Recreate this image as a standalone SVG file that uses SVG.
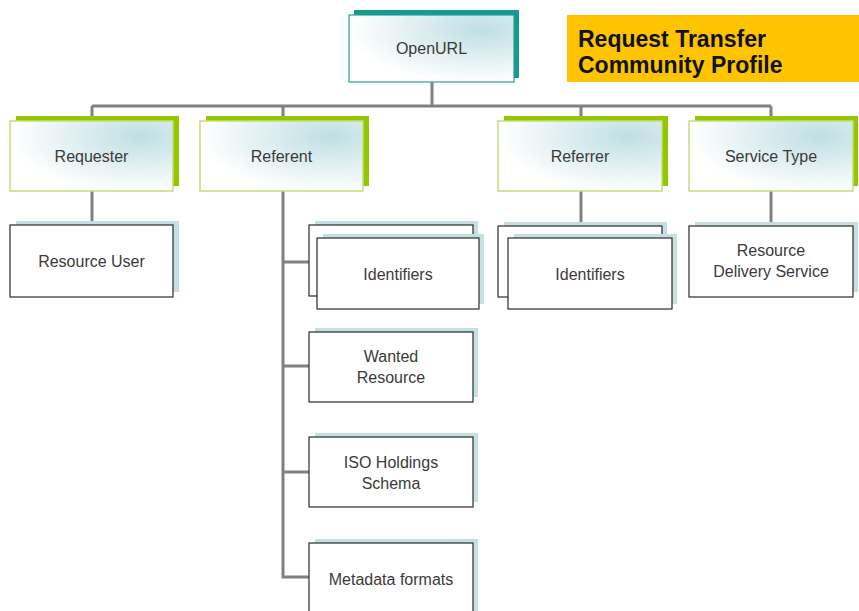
<svg xmlns="http://www.w3.org/2000/svg" width="859" height="611" viewBox="0 0 859 611">
  <defs>
    <radialGradient id="glow" cx="0.8" cy="0.22" r="0.8" fx="0.8" fy="0.22">
      <stop offset="0" stop-color="#bfdfe3"/>
      <stop offset="0.45" stop-color="#dcedf0"/>
      <stop offset="1" stop-color="#ffffff"/>
    </radialGradient>
    <style>
      .lbl { font-family: "Liberation Sans", Arial, sans-serif; font-size: 16px; fill: #3a3a3a; text-anchor: middle; }
      .title { font-family: "Liberation Sans", Arial, sans-serif; font-size: 23px; font-weight: bold; fill: #111111; }
      .sh-teal { fill: #17998f; }
      .sh-green { fill: #93c800; }
      .sh-blue { fill: #c4e0e3; }
      .top-teal { fill: url(#glow); stroke: #2a9d98; stroke-width: 1.2; }
      .top-green { fill: url(#glow); stroke: #c6dc7a; stroke-width: 1.5; }
      .leaf { fill: #ffffff; stroke: #2b2b2b; stroke-width: 1.2; }
      .wire { stroke: #808080; stroke-width: 3; fill: none; }
    </style>
  </defs>

  <rect width="859" height="611" fill="#ffffff"/>

  <!-- title banner -->
  <g id="title">
    <rect x="567" y="15" width="292" height="67" fill="#ffc400"/>
    <text class="title" x="578" y="47">Request Transfer</text>
    <text class="title" x="578" y="73">Community Profile</text>
  </g>

  <!-- connectors -->
  <g id="connectors">
    <path class="wire" d="M432 82 V106 M92 106 H771 M92 106 V121 M283 106 V121 M581 106 V121 M771 106 V121"/>
    <path class="wire" d="M92 191 V225"/>
    <path class="wire" d="M283 191 V578 M283 262 H309 M283 366 H309 M283 472 H309 M281.5 577 H309"/>
    <path class="wire" d="M581 191 V226"/>
    <path class="wire" d="M771 191 V226"/>
  </g>

  <g id="openurl">
    <rect class="sh-teal" x="354" y="10" width="165" height="68"/>
    <rect class="top-teal" x="349" y="15" width="165" height="67"/>
    <text class="lbl" x="431.5" y="54">OpenURL</text>
  </g>

  <g id="requester">
    <rect class="sh-green" x="16" y="116" width="163" height="70"/>
    <rect class="top-green" x="10" y="121" width="163" height="70"/>
    <text class="lbl" x="91.5" y="162">Requester</text>
  </g>

  <g id="referent">
    <rect class="sh-green" x="206" y="116" width="163" height="70"/>
    <rect class="top-green" x="200" y="121" width="163" height="70"/>
    <text class="lbl" x="281.5" y="162">Referent</text>
  </g>

  <g id="referrer">
    <rect class="sh-green" x="504" y="116" width="164" height="70"/>
    <rect class="top-green" x="498" y="121" width="164" height="70"/>
    <text class="lbl" x="580" y="162">Referrer</text>
  </g>

  <g id="service-type">
    <rect class="sh-green" x="695" y="116" width="163" height="70"/>
    <rect class="top-green" x="689" y="121" width="164" height="70"/>
    <text class="lbl" x="771" y="162">Service Type</text>
  </g>

  <g id="resource-user">
    <rect class="sh-blue" x="16" y="221" width="163" height="71"/>
    <rect class="leaf" x="10" y="225" width="163" height="72"/>
    <text class="lbl" x="91.5" y="267">Resource User</text>
  </g>

  <g id="referent-identifiers">
    <rect class="sh-blue" x="315" y="221" width="163" height="70"/>
    <rect class="leaf" x="309" y="225" width="164" height="71"/>
    <rect class="sh-blue" x="323" y="234" width="161" height="70"/>
    <rect class="leaf" x="317" y="238" width="162" height="71"/>
    <text class="lbl" x="398" y="280">Identifiers</text>
  </g>

  <g id="wanted-resource">
    <rect class="sh-blue" x="315" y="328" width="163" height="69"/>
    <rect class="leaf" x="309" y="332" width="164" height="70"/>
    <text class="lbl" x="391" y="362">Wanted</text>
    <text class="lbl" x="391" y="383">Resource</text>
  </g>

  <g id="iso-holdings">
    <rect class="sh-blue" x="315" y="433" width="163" height="69"/>
    <rect class="leaf" x="309" y="437" width="164" height="70"/>
    <text class="lbl" x="391" y="468">ISO Holdings</text>
    <text class="lbl" x="391" y="489">Schema</text>
  </g>

  <g id="metadata-formats">
    <rect class="sh-blue" x="315" y="539" width="163" height="80"/>
    <rect class="leaf" x="309" y="543" width="164" height="80"/>
    <text class="lbl" x="391" y="585">Metadata formats</text>
  </g>

  <g id="referrer-identifiers">
    <rect class="sh-blue" x="504" y="222" width="163" height="70"/>
    <rect class="leaf" x="498" y="226" width="164" height="71"/>
    <rect class="sh-blue" x="514" y="234" width="163" height="70"/>
    <rect class="leaf" x="508" y="238" width="164" height="71"/>
    <text class="lbl" x="590" y="280">Identifiers</text>
  </g>

  <g id="resource-delivery-service">
    <rect class="sh-blue" x="695" y="222" width="163" height="70"/>
    <rect class="leaf" x="689" y="226" width="164" height="71"/>
    <text class="lbl" x="771" y="256">Resource</text>
    <text class="lbl" x="771" y="277">Delivery Service</text>
  </g>
</svg>
